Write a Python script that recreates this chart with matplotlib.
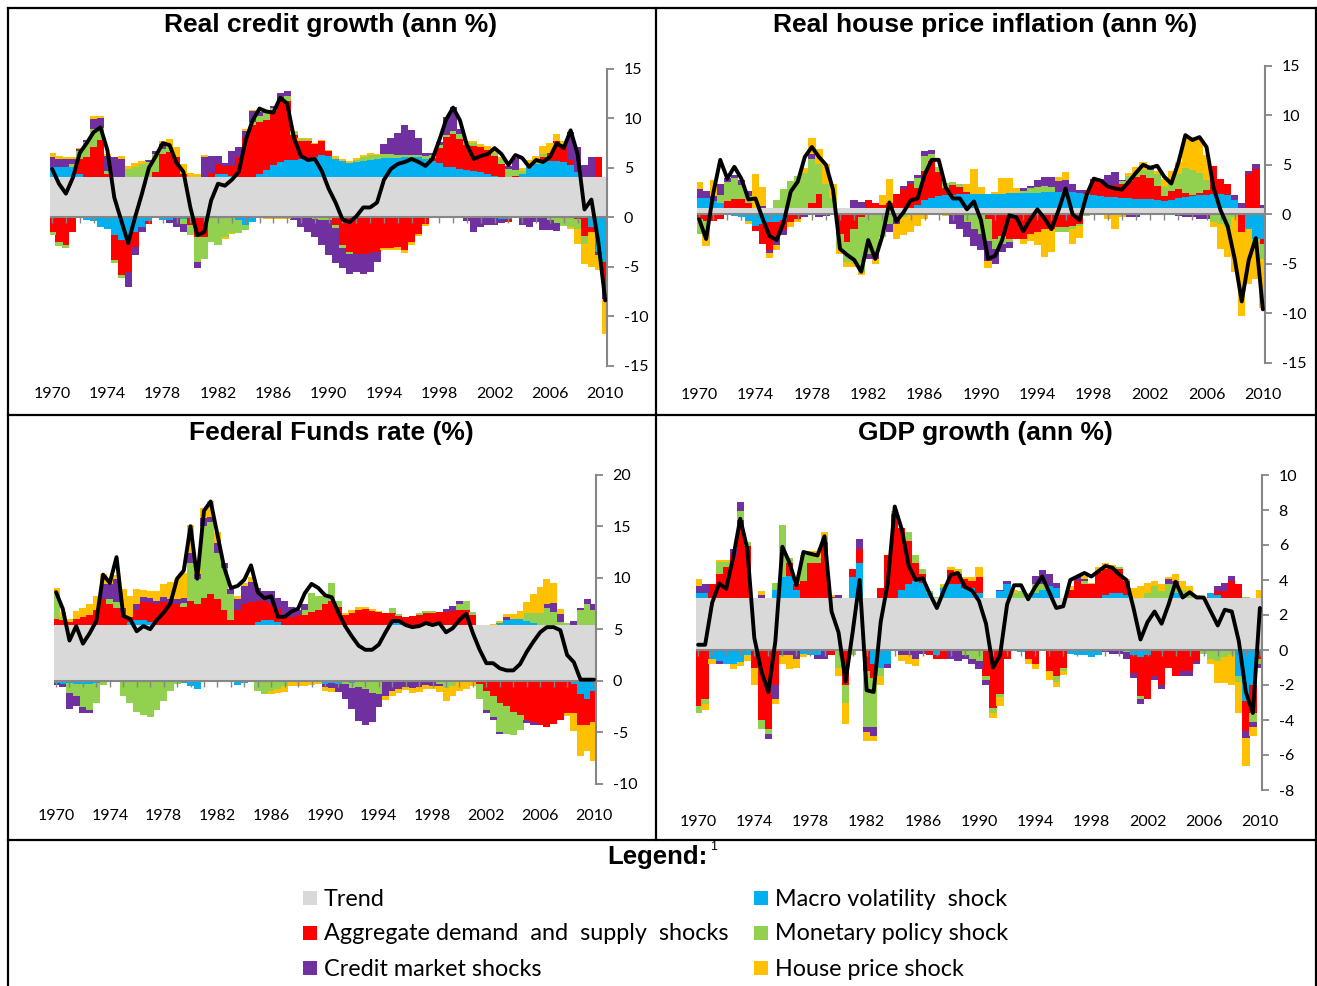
import numpy as np
import matplotlib
matplotlib.use("Agg")
import matplotlib.pyplot as plt
from matplotlib.lines import Line2D
from matplotlib.patches import Rectangle

# half-yearly observations, 1970H1 .. 2010H1
years = np.arange(1970, 2010.01, 0.5)

shock_names = ["Macro volatility  shock", "Aggregate demand  and  supply  shocks",
               "Monetary policy shock", "Credit market shocks", "House price shock"]

# ---- Real credit growth ----
credit_trend = 4.1
credit_line = [4.9, 3.4, 2.4, 4.0, 6.5, 7.5, 8.6, 9.1, 6.8, 2.0,
               -0.3, -2.6, 0.0, 2.4, 5.0, 6.2, 7.5, 7.3, 5.5, 4.6,
               1.0, -1.8, -1.5, 1.7, 3.4, 3.2, 3.8, 4.6, 7.8, 9.8,
               11.0, 10.7, 10.6, 12.1, 11.5, 8.0, 6.2, 5.8, 5.9, 4.7,
               2.9, 1.5, -0.2, -0.5, 0.1, 1.0, 1.0, 1.5, 3.8, 4.9,
               5.4, 5.6, 5.9, 5.6, 5.2, 5.9, 7.8, 9.9, 11.1, 9.8,
               7.3, 5.9, 6.2, 6.4, 7.0, 6.4, 5.3, 6.3, 6.0, 5.1,
               5.8, 5.6, 6.1, 7.5, 7.0, 8.8, 6.4, 0.8, 1.8, -2.5,
               -8.4]
credit_macro = [1.0, 1.0, 1.0, 1.0, 0.3, -0.3, -0.4, -1.0, -1.2, -1.8,
                -2.3, -2.5, -1.5, -1.0, -0.4, 0.0, -0.3, -0.3, 0.0, -0.2,
                0.0, 0.0, 0.0, 0.0, 0.3, 0.3, 0.1, -0.3, -0.8, -0.5,
                0.3, 0.7, 1.2, 1.5, 1.7, 1.7, 1.8, 1.8, 2.0, 2.2,
                2.1, 1.8, 1.6, 1.4, 1.5, 1.6, 1.7, 1.8, 1.9, 1.9,
                1.9, 2.0, 2.0, 2.0, 1.8, 1.6, 1.4, 1.0, 1.0, 0.8,
                0.7, 0.6, 0.5, 0.3, 0.1, -0.2, -0.2, 0.0, 0.3, 1.0,
                1.3, 1.5, 1.6, 1.6, 1.5, 1.2, 0.5, 0.0, -1.0, -3.5,
                -4.5]
credit_ad = [-1.5, -2.5, -2.8, -1.5, 1.5, 2.0, 3.0, 3.7, 0.3, -2.5,
             -3.5, -3.0, -1.5, 0.0, -0.3, 0.5, 2.3, 2.5, 2.0, 0.3,
             -0.8, -2.0, -2.0, 0.4, 1.0, 0.8, 1.0, 2.0, 4.0, 5.2,
             5.2, 5.0, 5.5, 6.5, 6.0, 2.5, 1.8, 1.8, 1.3, 1.4,
             0.5, -0.8, -2.8, -3.5, -3.7, -3.7, -3.6, -3.5, -3.1, -3.1,
             -3.0, -3.3, -2.5, -1.7, -0.7, 0.3, 1.5, 3.0, 3.3, 3.0,
             2.5, 2.5, 2.5, 2.4, 2.0, 1.3, -0.3, 0.1, 0.0, 0.0,
             0.0, 0.5, 0.8, 2.0, 1.5, 0.5, -0.2, -1.9, -0.5, 2.0,
             -2.5]
credit_mon = [-0.3, -0.4, -0.3, 0.3, 0.8, 1.5, 1.8, 1.2, 0.3, -0.3,
              -0.3, 0.8, 1.0, 1.3, 1.5, 1.8, 0.5, 0.5, 0.0, -0.5,
              -1.0, -2.5, -2.2, -2.5, -2.8, -2.0, -1.6, -1.3, -0.5, 0.3,
              0.6, 0.8, 0.3, 0.0, 0.5, 0.3, 0.2, 0.2, -0.2, -0.3,
              -0.3, -0.3, -0.3, -0.2, 0.2, 0.4, 0.5, 0.4, 0.4, 0.4,
              0.3, 0.2, 0.2, 0.2, 0.3, 0.3, 0.3, 0.2, 0.3, 0.5,
              0.3, 0.3, 0.0, 0.0, 0.3, 0.5, 0.8, 0.6, 0.3, 0.3,
              0.3, 0.3, -0.3, -0.6, -0.9, -1.0, -1.0, -0.8, 0.0, 0.0,
              0.0]
credit_cred = [1.0, 0.8, 0.8, 0.5, 0.2, 0.2, 1.0, 1.0, 1.5, 2.0,
               1.8, -1.5, -0.8, -0.5, 0.2, 0.3, 0.5, -0.3, -1.0, -0.8,
               0.0, -0.6, 2.0, 1.7, 0.8, 0.3, 1.5, 1.0, 0.6, 1.2,
               0.5, 0.3, 0.2, 0.5, 0.5, -0.3, -1.0, -1.5, -1.8, -2.5,
               -3.5, -3.5, -2.0, -2.0, -1.8, -2.0, -1.9, -1.0, 1.0, 1.6,
               2.2, 3.0, 2.5, 1.7, 0.3, 0.2, 0.3, 1.8, 2.5, 0.5,
               -0.4, -1.5, -1.0, -0.8, -0.8, -0.4, 0.3, 1.2, -0.8, -1.0,
               -0.5, -1.3, -1.0, -0.8, 0.3, 2.8, 2.5, 1.2, 2.0, -0.3,
               -1.3]
credit_house = [0.4, 0.3, 0.2, 0.2, 0.1, 0.0, 0.3, 0.2, 0.2, 0.0,
                0.3, 0.3, 0.4, 0.3, 0.0, 0.0, 0.3, 0.8, 1.0, 1.0,
                0.4, 0.3, 0.2, 0.0, 0.0, -0.2, -0.1, 0.0, 0.2, 0.1,
                0.1, -0.2, -0.2, -0.2, -0.2, 0.1, 0.1, 0.1, 0.15, 0.1,
                0.1, 0.3, 0.2, 0.2, 0.2, 0.2, 0.2, 0.1, -0.2, -0.2,
                -0.3, -0.3, -0.3, -0.2, -0.2, -0.1, 0.0, 0.0, 0.0, 0.0,
                0.1, 0.2, 0.3, 0.4, 0.5, 0.2, 0.0, 0.0, 0.3, 0.4,
                0.5, 0.8, 1.0, 0.7, 0.3, -0.2, -1.5, -2.0, -3.5, -1.5,
                -3.5]

# ---- Real house price inflation ----
house_trend = 0.6
house_line = [-0.5, -2.5, 2.1, 5.5, 3.6, 4.8, 3.6, 1.5, 1.6, -0.4,
              -2.2, -2.6, -0.8, 2.3, 3.3, 5.8, 6.8, 5.8, 5.0, 2.5,
              -3.5, -4.1, -4.6, -5.8, -2.6, -4.5, -2.2, 1.2, -0.7, 0.2,
              1.4, 1.6, 4.0, 5.5, 5.5, 2.7, 1.6, 1.6, 0.5, 1.3,
              -0.6, -4.5, -4.2, -2.6, -0.1, -0.3, -1.7, -0.5, 0.5, -0.4,
              -1.5, 0.4, 2.6, 0.0, -0.6, 2.0, 3.6, 3.4, 2.8, 2.6,
              2.5, 3.3, 4.2, 5.0, 4.7, 4.9, 3.8, 3.1, 5.2, 8.0,
              7.5, 7.8, 6.8, 2.7, 0.4, -1.2, -4.5, -8.8, -4.6, -2.4,
              -9.6]
house_macro = [1.0, 1.0, 0.7, 0.5, 0.0, -0.2, -0.3, -0.7, -1.2, -1.0,
               -0.8, -0.8, -0.6, 0.0, 0.0, 0.0, 0.0, 0.0, 0.0, 0.0,
               0.0, 0.0, 0.0, 0.0, 0.0, 0.0, 0.0, 0.0, 0.0, 0.0,
               0.0, 0.3, 0.8, 1.0, 1.2, 1.3, 1.4, 1.5, 1.5, 1.5,
               1.5, 1.5, 1.5, 1.5, 1.6, 1.6, 1.6, 1.6, 1.6, 1.7,
               1.7, 1.7, 1.8, 1.7, 1.6, 1.5, 1.3, 1.2, 1.1, 1.1,
               1.0, 1.0, 0.9, 0.9, 0.9, 0.8, 0.7, 0.8, 1.0, 1.1,
               1.2, 1.3, 1.4, 1.5, 1.5, 1.3, 0.8, 0.0, -1.5, -2.5,
               -2.5]
house_ad = [-0.5, -0.7, -0.7, -0.5, 0.7, 0.9, 0.9, 0.5, -0.5, -2.0,
            -2.8, -1.7, -1.0, -0.8, -0.5, 0.0, 0.5, 1.5, 0.0, 0.0,
            -2.0, -2.8, -1.5, -0.3, 0.8, 0.5, 0.3, 0.5, 1.5, 2.0,
            2.5, 1.8, 3.0, 3.8, 2.5, 0.8, 1.0, 0.7, 0.2, 0.0,
            0.0, -0.5, -2.5, -2.2, -2.5, -2.5, -2.5, -2.0, -1.8, -1.5,
            -1.5, -1.3, -1.3, -1.2, -1.0, 0.3, 1.5, 1.5, 1.3, 1.3,
            1.5, 1.8, 2.3, 2.5, 2.2, 1.5, 0.5, 1.0, 1.0, 0.5,
            0.2, 0.3, 0.5, 2.8, 1.5, 1.2, 0.0, -1.8, 3.5, 4.0,
            -0.5]
house_mon = [-1.5, -1.5, 0.0, 0.8, 2.0, 2.2, 1.5, 0.7, 0.0, 0.0,
             0.0, 0.8, 2.0, 2.8, 3.3, 3.6, 4.5, 3.0, 2.5, 1.0,
             -1.5, -2.0, -3.5, -5.5, -4.0, -4.0, -2.3, -1.0, -0.5, -0.3,
             0.0, 1.0, 1.5, 0.7, 0.5, 0.5, 0.3, 0.3, -0.8, -1.5,
             -2.0, -2.2, -1.0, -0.8, -0.3, 0.0, 0.2, 0.5, 0.6, 0.6,
             0.5, -0.5, -0.5, -0.3, -0.2, -0.2, 0.0, 0.0, 0.0, 0.0,
             0.3, 0.5, 0.5, 0.5, 0.8, 1.2, 1.0, 1.0, 1.5, 2.5,
             2.5, 2.0, 1.0, -0.8, -1.0, -1.3, -0.3, 0.0, 0.0, -0.5,
             -1.5]
house_cred = [1.0, 0.8, 0.5, 1.2, 0.4, 0.3, 0.5, 0.6, 0.0, 0.2,
              -0.3, -0.6, -0.5, 0.0, 0.0, -0.3, 0.5, -0.3, -0.2, 0.0,
              0.0, 0.0, 0.8, 0.6, -0.5, -0.5, 0.0, -0.8, -0.5, 0.3,
              0.3, 0.3, 0.5, 0.4, 0.0, 0.0, -1.0, -1.5, -1.5, -1.7,
              -1.6, -2.0, -1.5, -0.8, -0.6, 0.0, 0.3, 0.2, 0.7, 0.9,
              1.0, 1.1, 1.1, 0.8, 0.3, 0.1, 0.2, 0.3, 1.0, 1.3,
              0.1, -0.3, -0.3, 0.0, 0.2, 0.0, 0.0, 0.0, -0.2, -0.3,
              -0.3, -0.5, -0.5, 0.0, 0.0, 0.0, 0.5, 0.5, 0.3, 0.5,
              0.3]
house_house = [0.7, -1.0, 1.7, 0.0, 0.0, 0.0, 0.0, -0.3, 3.5, 2.0,
               -0.5, -0.5, 0.0, -0.5, -0.3, 0.5, 1.6, 1.5, 2.0, 1.5,
               -0.5, -0.5, -0.3, -0.3, 0.0, -0.5, 1.0, 2.5, -1.5, -1.8,
               -1.8, -1.2, -0.5, 0.0, 0.0, -0.2, 0.0, 0.0, 0.8, 2.5,
               0.7, -0.7, 0.2, 1.6, 1.5, 0.5, -0.5, -0.7, -1.3, -2.8,
               -2.3, 0.4, 0.8, -1.5, -1.2, 0.0, -0.1, 0.0, -0.5, -1.5,
               -0.3, 0.3, 0.5, 0.8, 0.0, 0.3, 0.8, 1.0, 1.2, 3.0,
               3.3, 3.5, 2.5, -0.5, -2.5, -3.0, -5.5, -8.5, -5.5, -3.5,
               -5.0]

# ---- Federal Funds rate ----
ff_trend = 5.4
ff_line = [8.6, 7.0, 3.9, 5.3, 3.6, 4.6, 5.8, 10.3, 9.5, 12.0,
           6.3, 6.0, 4.8, 5.3, 5.0, 5.9, 6.6, 7.5, 9.9, 10.7,
           15.0, 9.9, 16.5, 17.4, 14.2, 11.0, 9.0, 9.2, 9.8, 11.2,
           8.6, 8.0, 8.2, 6.2, 6.2, 6.7, 7.0, 8.5, 9.4, 9.0,
           8.3, 8.1, 6.6, 5.3, 4.3, 3.4, 3.0, 3.0, 3.5, 4.7,
           5.8, 5.8, 5.4, 5.2, 5.3, 5.6, 5.4, 5.6, 4.7, 5.1,
           5.9, 6.5, 4.6, 3.0, 1.7, 1.7, 1.2, 1.0, 1.0, 1.6,
           2.8, 3.8, 4.7, 5.2, 5.2, 4.9, 2.5, 1.8, 0.1, 0.1,
           0.1]
ff_macro = [-0.2, -0.3, -0.2, -0.3, -0.3, -0.3, -0.2, -0.1, -0.1, 0.0,
            0.0, 0.3, 0.5, 0.5, 0.3, 0.0, 0.0, 0.0, 0.0, -0.2,
            -0.5, -0.8, 0.0, 0.0, 0.0, 0.0, 0.0, -0.4, -0.2, 0.0,
            0.3, 0.5, 0.5, 0.3, 0.0, 0.0, 0.0, 0.0, 0.0, 0.0,
            -0.3, -0.2, -0.3, 0.0, -0.2, -0.1, 0.0, 0.0, 0.0, 0.0,
            0.2, 0.2, 0.0, 0.0, 0.0, 0.0, 0.0, 0.0, 0.0, 0.0,
            0.0, 0.0, 0.0, 0.0, 0.0, 0.0, 0.2, 0.5, 0.6, 0.6,
            0.4, 0.2, 0.0, 0.0, 0.0, 0.0, -0.1, -0.3, -1.3, -1.8,
            -1.0]
ff_ad = [0.6, 0.5, 0.3, 0.6, 0.8, 1.0, 1.5, 2.5, 2.0, 1.7,
         1.2, 0.5, 1.0, 1.7, 1.8, 2.0, 2.2, 2.0, 2.0, 1.8,
         2.3, 2.0, 2.6, 3.0, 2.5, 1.5, 0.5, 1.5, 2.0, 2.2,
         2.0, 1.8, 1.5, 1.3, 1.0, 0.8, 1.0, 1.0, 1.3, 1.5,
         2.0, 2.3, 1.8, 1.0, 1.2, 1.5, 1.6, 1.4, 1.3, 1.2,
         1.0, 0.7, 0.8, 0.9, 1.0, 1.2, 1.2, 1.3, 1.3, 1.4,
         1.5, 1.5, 1.0, -0.3, -1.0, -1.5, -2.2, -2.5, -3.0, -3.3,
         -3.8, -4.0, -4.3, -4.5, -4.2, -3.8, -3.0, -2.8, -3.0, -2.5,
         -3.0]
ff_mon = [2.6, 0.3, -1.0, -1.2, -2.3, -2.5, -2.0, -0.3, 0.5, 0.5,
          -1.5, -2.2, -3.0, -3.3, -3.5, -2.8, -2.0, -1.0, -0.3, 0.3,
          3.7, 2.5, 7.0, 7.0, 4.5, 4.0, 2.5, 0.0, 0.0, 0.0,
          -1.0, -1.3, -1.0, -0.8, -0.5, 0.0, 0.0, 0.5, 1.8, 1.3,
          0.8, 1.8, 0.5, -0.3, -0.5, -0.5, -0.8, -1.2, -1.3, 0.0,
          0.5, 0.2, 0.0, 0.0, 0.2, 0.2, 0.2, -0.3, -0.7, -0.5,
          0.5, 0.8, 0.3, -1.5, -1.8, -2.0, -2.8, -2.7, -2.3, -1.5,
          0.8, 1.0, 1.2, 1.7, 1.3, 0.3, 0.2, 0.0, 1.5, 2.0,
          1.5]
ff_cred = [-0.2, -0.3, -1.5, -1.0, -0.5, -0.3, 0.0, 1.5, 1.5, 2.3,
           0.5, 0.0, 0.5, 0.5, 0.5, 0.3, 0.5, 0.5, 0.5, 0.5,
           1.0, 0.5, 0.8, 0.5, 1.0, 0.5, 0.5, 1.0, 1.8, 2.0,
           1.3, 1.0, 1.3, 1.0, 1.3, 1.0, 0.5, 0.5, 0.0, 0.0,
           -0.3, -0.5, -0.8, -1.5, -2.0, -3.3, -3.5, -2.8, -1.3, -1.5,
           -1.0, -0.8, -0.6, -0.7, -0.6, -0.4, -0.5, -0.2, 0.3, 0.5,
           0.3, 0.0, 0.0, 0.0, -0.3, -0.3, -0.2, 0.3, 0.0, 0.0,
           -0.3, -0.3, 0.0, 0.3, 0.8, 0.8, 0.0, 0.4, 0.2, 0.5,
           0.5]
ff_house = [0.4, 0.5, 0.3, 0.8, 0.9, 1.0, 1.3, 1.0, 0.6, 0.4,
            1.8, 2.0, 1.5, 0.7, 0.7, 1.0, 1.3, 1.7, 2.0, 2.5,
            2.7, 0.3, 1.0, 1.5, 1.0, 0.0, 0.0, 0.3, 0.3, 0.5,
            0.0, 0.0, -0.3, -0.4, -0.6, -0.5, -0.5, -0.5, -0.4, -0.3,
            -0.4, -0.4, 0.0, 0.2, 0.3, 0.3, 0.2, 0.2, 0.1, -0.4,
            -0.5, -0.4, -0.3, -0.5, -0.5, -0.4, -0.3, -0.6, -1.3, -1.0,
            -1.0, -0.8, -0.5, 0.0, 0.0, 0.1, 0.2, 0.3, 0.5, 0.8,
            1.0, 1.8, 2.5, 2.5, 2.0, 0.5, -0.3, -1.8, -3.0, -2.5,
            -3.8]

# ---- GDP growth ----
gdp_trend = 2.95
gdp_line = [0.3, 0.3, 2.7, 3.8, 3.5, 5.3, 7.5, 5.8, 0.7, -1.2,
            -2.4, 0.5, 5.9, 5.0, 3.7, 5.6, 5.5, 5.4, 6.5, 2.2,
            1.0, -1.8, 1.0, 4.0, -2.3, -2.4, 1.6, 3.8, 8.2, 6.9,
            4.8, 4.0, 4.1, 3.2, 2.4, 3.4, 4.3, 4.4, 3.6, 3.4,
            2.8, 1.5, -1.0, -0.3, 2.6, 3.7, 3.7, 2.9, 3.6, 4.2,
            3.3, 2.4, 2.5, 4.0, 4.2, 4.4, 4.2, 4.5, 4.8, 4.7,
            4.3, 4.0, 2.4, 0.6, 1.6, 2.2, 1.5, 2.6, 3.9, 3.0,
            3.3, 3.0, 3.0, 2.2, 1.4, 2.3, 2.2, 0.5, -2.4, -3.6,
            2.4]
gdp_macro = [0.3, 0.3, -0.5, -0.6, -0.8, -0.8, -0.7, -0.3, 0.0, 0.0,
             0.0, 0.5, 1.2, 1.3, 0.5, -0.2, -0.3, -0.3, 0.0, 0.0,
             0.0, 0.0, 1.2, 2.0, 0.0, -0.8, -1.0, -0.8, 0.0, 0.5,
             0.8, 1.0, 0.9, 0.3, -0.3, 0.6, 0.8, 0.8, 0.6, 0.6,
             0.3, 0.0, 0.0, 0.4, 0.8, 0.0, -0.1, 0.0, 0.3, 0.5,
             0.7, 0.6, 0.0, -0.2, -0.3, -0.3, -0.4, -0.3, 0.2, 0.3,
             0.3, 0.2, -0.3, -0.4, -0.3, 0.0, 0.0, 0.0, 0.3, 0.2,
             0.0, 0.0, 0.0, 0.3, 0.2, 0.0, 0.0, -1.5, -2.9, -2.0,
             0.0]
gdp_ad = [-3.2, -2.8, 0.8, 1.4, 1.8, 2.5, 4.5, 3.0, -1.0, -4.0,
          -4.5, -2.0, 0.0, 0.7, 0.3, 1.0, 2.0, 2.0, 3.2, -0.3,
          0.0, -2.0, 0.5, 0.8, -1.2, -0.8, 0.6, 2.5, 4.5, 3.5,
          2.5, 1.0, 0.5, -0.3, -0.2, -0.5, 0.8, 0.6, 0.5, 0.4,
          0.9, -1.5, -3.3, -2.5, -0.5, 0.0, 0.0, -0.5, -0.8, 0.0,
          -1.2, -1.5, -1.0, 0.5, 1.0, 0.8, 0.8, 1.5, 1.5, 1.4,
          1.4, 0.8, -1.0, -2.2, -2.5, -1.5, -2.0, -1.0, -1.5, -1.2,
          -1.2, -0.6, 0.0, 0.0, 0.2, 0.4, 1.0, 0.8, -1.7, -1.6,
          -0.5]
gdp_mon = [-0.4, -0.3, 0.0, 0.7, 0.3, 0.0, 0.5, 0.2, 0.0, -0.5,
           -0.3, 0.4, 3.0, 0.3, 0.3, 1.5, 0.5, 0.3, 0.3, 0.0,
           -1.0, -1.0, -0.3, 0.0, -3.2, -2.8, -0.5, 0.0, 0.0, 0.0,
           0.5, 0.5, 0.3, 0.1, 0.1, 0.1, 0.0, 0.1, -0.3, -0.5,
           -0.6, -0.2, -0.3, -0.2, 0.0, 0.3, 0.4, 0.3, 0.5, 0.3,
           0.0, -0.3, -0.2, 0.0, 0.0, 0.2, 0.0, 0.0, 0.0, 0.0,
           0.1, -0.1, 0.0, -0.2, 0.3, 0.7, 0.4, 0.8, 0.5, 0.3,
           0.2, 0.0, -0.2, -0.5, -0.6, -0.4, -0.3, -0.3, 0.1, -0.5,
           -0.3]
gdp_cred = [0.4, 0.5, 0.0, -0.2, 0.0, 0.3, 0.5, 0.0, 0.0, 0.2,
            -0.3, -0.8, -0.3, -0.3, -0.5, 0.0, 0.0, -0.2, -0.5, 0.1,
            0.2, 0.0, 0.0, 0.6, -0.3, -0.5, 0.0, -0.2, 0.3, -0.3,
            -0.3, -0.5, -0.2, 0.0, 0.0, 0.0, -0.5, -0.6, -0.2, -0.3,
            -0.5, -0.3, 0.0, 0.1, 0.2, 0.0, 0.0, 0.0, 0.5, 0.8,
            0.7, 0.3, 0.0, 0.0, 0.3, 0.1, 0.0, 0.0, -0.1, -0.2,
            -0.2, -0.4, -0.3, -0.3, 0.0, -0.2, -0.2, 0.3, 0.2, -0.3,
            -0.3, -0.2, 0.0, 0.0, 0.3, 0.5, 0.3, 0.0, -0.4, -0.3,
            -0.2]
gdp_house = [0.4, -0.3, -0.3, 0.1, 0.1, -0.3, -0.2, -0.3, -1.0, 0.2,
             0.0, -0.3, -0.5, -0.8, -0.5, -0.2, 0.2, 0.4, 0.3, 0.1,
             -0.5, -1.2, 0.0, 0.0, -0.5, -0.3, -0.5, 0.0, 0.2, -0.3,
             -0.5, -0.4, 0.0, 0.0, 0.0, 0.1, 0.2, 0.2, 0.1, 0.2,
             0.6, 0.0, -0.3, -0.5, 0.0, 0.2, 0.0, -0.3, -0.3, 0.0,
             -0.5, -0.3, -0.2, 0.2, 0.0, 0.2, 0.1, 0.3, 0.3, 0.2,
             0.0, 0.1, 0.6, 0.7, 0.6, 0.3, 0.4, 0.1, 0.4, 0.5,
             0.5, 0.2, 0.1, -0.3, -1.3, -1.5, -1.7, -1.8, -1.6, -0.5,
             0.5]

GREY = "#d9d9d9"
AXIS = "#868686"
COLS = ["#00b0f0", "#ff0000", "#92d050", "#7030a0", "#ffc000"]
TICKFONT = "Lato"

plt.rcParams["axes.unicode_minus"] = False

W, H = 1317, 986
fig = plt.figure(figsize=(W / 100, H / 100), dpi=100)


def panel(box, trend, line, parts, ylim, yticks, xpad):
    l, t, r, b = box
    ax = fig.add_axes([l / W, 1 - b / H, (r - l) / W, (b - t) / H])
    n = len(years)
    ax.bar(years, np.full(n, trend), width=0.52, color=GREY, linewidth=0, zorder=1)
    up = np.full(n, trend)
    down = np.zeros(n)
    for vals, col in zip(parts, COLS):
        v = np.asarray(vals, dtype=float)
        p = np.where(v > 0, v, 0.0)
        q = np.where(v < 0, v, 0.0)
        ax.bar(years, p, bottom=up, width=0.52, color=col, linewidth=0, zorder=1)
        ax.bar(years, q, bottom=down, width=0.52, color=col, linewidth=0, zorder=1)
        up += p
        down += q
    ax.axhline(0, color=AXIS, lw=1.5, zorder=2)
    yrs = np.arange(1970, 2011)
    ax.plot(yrs, np.zeros(len(yrs)), ls="none", marker=3, ms=4, mew=1,
            color=AXIS, zorder=2)
    ax.plot(years, line, color="black", lw=2.8, zorder=4,
            solid_joinstyle="round", solid_capstyle="round")

    ax.set_xlim(1969.85, 2010.15)
    ax.set_ylim(*ylim)
    for s in ["top", "left", "bottom"]:
        ax.spines[s].set_visible(False)
    ax.spines["right"].set_color(AXIS)
    ax.spines["right"].set_linewidth(1.5)
    ax.yaxis.tick_right()
    ax.set_yticks(yticks)
    ax.set_yticklabels([str(v) for v in yticks], fontsize=11.5, family=TICKFONT)
    ax.tick_params(axis="y", direction="out", length=5, width=1.3, color=AXIS, pad=7)
    xt = list(range(1970, 2011, 4))
    ax.set_xticks(xt)
    ax.set_xticklabels([str(v) for v in xt], fontsize=11.5, family=TICKFONT)
    ax.tick_params(axis="x", length=0, pad=xpad)
    ax.patch.set_visible(False)
    return ax


panel((50, 69, 607.3, 365.7), credit_trend, credit_line,
      [credit_macro, credit_ad, credit_mon, credit_cred, credit_house],
      (-15, 15), [-15, -10, -5, 0, 5, 10, 15], 15)
panel((697, 65.8, 1265, 362.8), house_trend, house_line,
      [house_macro, house_ad, house_mon, house_cred, house_house],
      (-15, 15), [-15, -10, -5, 0, 5, 10, 15], 18)
panel((54, 474.7, 596, 783.7), ff_trend, ff_line,
      [ff_macro, ff_ad, ff_mon, ff_cred, ff_house],
      (-10, 20), [-10, -5, 0, 5, 10, 15, 20], 18)
panel((696, 475, 1262, 790), gdp_trend, gdp_line,
      [gdp_macro, gdp_ad, gdp_mon, gdp_cred, gdp_house],
      (-8, 10), [-8, -6, -4, -2, 0, 2, 4, 6, 8, 10], 18)

titles = [("Real credit growth (ann %)", 331, 25),
          ("Real house price inflation (ann %)", 985, 25),
          ("Federal Funds rate (%)", 331, 433),
          ("GDP growth (ann %)", 985, 433)]
for txt, x, y in titles:
    fig.text(x / W, 1 - y / H, txt, ha="center", va="center", fontsize=19,
             fontweight="bold", family="Liberation Sans")

# frame lines around the panels
def hline(x0, x1, y):
    fig.add_artist(Line2D([x0 / W, x1 / W], [1 - y / H, 1 - y / H], color="black", lw=1.6))


def vline(x, y0, y1):
    fig.add_artist(Line2D([x / W, x / W], [1 - y0 / H, 1 - y1 / H], color="black", lw=1.6))


hline(8, 1316, 8)
hline(8, 1316, 415)
hline(8, 1316, 840)
vline(8, 8, 986)
vline(1316, 8, 986)
vline(655.5, 8, 840)

# legend block
fig.text(657 / W, 1 - 857 / H, "Legend:", ha="center", va="center", fontsize=18.5,
         fontweight="bold", family="Liberation Sans")
fig.text(710 / W, 1 - 847 / H, "1", ha="left", va="center", fontsize=9,
         family="Liberation Sans")

legend_items = [("Trend", GREY, 303, 898),
                (shock_names[1], COLS[1], 303, 933),
                (shock_names[3], COLS[3], 303, 968),
                (shock_names[0], COLS[0], 754, 898),
                (shock_names[2], COLS[2], 754, 933),
                (shock_names[4], COLS[4], 754, 968)]
for label, col, x, y in legend_items:
    fig.add_artist(Rectangle((x / W, 1 - (y + 7) / H), 14 / W, 14 / H,
                             color=col, transform=fig.transFigure, lw=0))
    fig.text((x + 21) / W, 1 - (y + 1) / H, label, ha="left", va="center",
             fontsize=16.8, family=TICKFONT)

fig.savefig("out.png", dpi=100)
